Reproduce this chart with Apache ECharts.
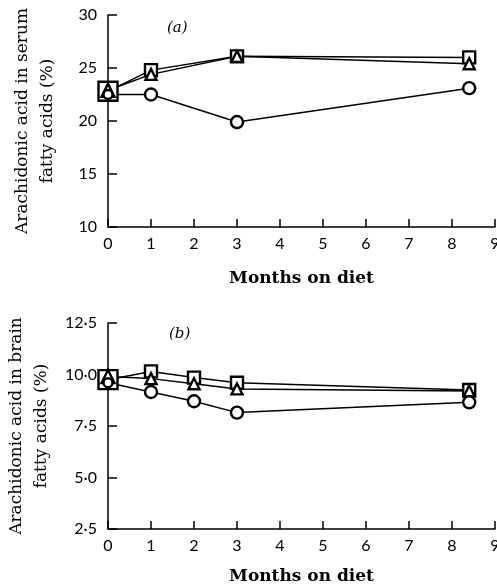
<!DOCTYPE html>
<html>
<head>
<meta charset="utf-8">
<script src="https://cdn.jsdelivr.net/npm/echarts@6/dist/echarts.min.js"></script>
<style>
html,body{margin:0;padding:0;background:#fff;}
#chart{width:497px;height:587px;}
</style>
</head>
<body>
<div id="chart"></div>
<script>
// ---- data ----
const monthsA = [0, 1, 3, 8.4];
const serumSquare = [22.8, 24.8, 26.1, 26.0];
const serumTriangle = [22.9, 24.4, 26.1, 25.4];
const serumCircle = [22.5, 22.5, 19.9, 23.1];

const monthsB = [0, 1, 2, 3, 8.4];
const brainSquare = [9.75, 10.15, 9.85, 9.6, 9.25];
const brainTriangle = [9.9, 9.8, 9.55, 9.3, 9.2];
const brainCircle = [9.6, 9.15, 8.7, 8.15, 8.65];

const xTicks = [0, 1, 2, 3, 4, 5, 6, 7, 8, 9];
const serumTicks = [10, 15, 20, 25, 30];
const brainTicks = [2.5, 5.0, 7.5, 10.0, 12.5];

const panelLabels = ['(a)', '(b)'];
const yTitles = ['Arachidonic acid in serum\nfatty acids (%)', 'Arachidonic acid in brain\nfatty acids (%)'];
const xTitle = 'Months on diet';

// ---- chart ----
const chart = echarts.init(document.getElementById('chart'));
const tickFont = 'Lato, "Open Sans", sans-serif';
const serif = '"DejaVu Serif", "Liberation Serif", serif';

function pairs(xs, ys) { return xs.map((x, i) => [x, ys[i]]); }

function xAxis(gridIndex, gap) {
  return {
    type: 'value', gridIndex, min: 0, max: 9, interval: 1,
    name: xTitle, nameLocation: 'middle', nameGap: gap,
    nameTextStyle: { fontFamily: serif, fontSize: 17, color: '#000', fontWeight: 'bold' },
    axisLine: { show: true, lineStyle: { color: '#000', width: 1.5 } },
    axisTick: { show: true, inside: true, length: 8, lineStyle: { color: '#000', width: 1.5 } },
    axisLabel: { color: '#000', fontFamily: tickFont, fontSize: 16, margin: 9,
      formatter: v => xTicks.includes(v) ? String(v) : '' },
    splitLine: { show: false }
  };
}
function yAxis(gridIndex, min, max, interval, name, fmt) {
  return {
    type: 'value', gridIndex, min, max, interval,
    name, nameLocation: 'middle', nameGap: 48, nameRotate: 90,
    nameTextStyle: { fontFamily: serif, fontSize: 17, color: '#000', lineHeight: 25 },
    axisLine: { show: true, lineStyle: { color: '#000', width: 1.5 } },
    axisTick: { show: true, inside: true, length: 9, lineStyle: { color: '#000', width: 1.5 } },
    axisLabel: { color: '#000', fontFamily: tickFont, fontSize: 16, margin: 11, formatter: fmt },
    splitLine: { show: false }
  };
}

function series(name, xi, xs, ys, symbol, size, firstSize) {
  return {
    name, type: 'line', xAxisIndex: xi, yAxisIndex: xi,
    data: pairs(xs, ys).map((p, i) => ({ value: p, symbolSize: i === 0 ? firstSize : size })),
    symbol, showSymbol: true,
    lineStyle: { color: '#000', width: 1.5 },
    itemStyle: { color: '#fff', borderColor: '#000', borderWidth: 2.4 },
    animation: false, z: 3
  };
}

const option = {
  backgroundColor: '#fff',
  animation: false,
  grid: [
    { left: 108, right: 2, top: 15, bottom: 360, containLabel: false, outerBoundsMode: 'none' },
    { left: 108, right: 2, top: 323, bottom: 58, containLabel: false, outerBoundsMode: 'none' }
  ],
  xAxis: [xAxis(0, 43), xAxis(1, 39)],
  yAxis: [
    yAxis(0, 10, 30, 5, yTitles[0], v => serumTicks.includes(v) ? String(v) : ''),
    yAxis(1, 2.5, 12.5, 2.5, yTitles[1], v => v.toFixed(1).replace('.', '·'))
  ],
  title: [
    { text: panelLabels[0], left: 162, top: 16, textStyle: { fontFamily: serif, fontStyle: 'italic', fontWeight: 'normal', fontSize: 15, color: '#000' } },
    { text: panelLabels[1], left: 164, top: 322, textStyle: { fontFamily: serif, fontStyle: 'italic', fontWeight: 'normal', fontSize: 15, color: '#000' } }
  ],
  series: [
    series('Serum square', 0, monthsA, serumSquare, 'rect', 12, 19),
    series('Serum triangle', 0, monthsA, serumTriangle, 'triangle', 11, 13),
    series('Serum circle', 0, monthsA, serumCircle, 'circle', 12, 9),
    series('Brain square', 1, monthsB, brainSquare, 'rect', 12, 19),
    series('Brain triangle', 1, monthsB, brainTriangle, 'triangle', 11, 13),
    series('Brain circle', 1, monthsB, brainCircle, 'circle', 12, 9)
  ]
};
chart.setOption(option);
</script>
</body>
</html>
